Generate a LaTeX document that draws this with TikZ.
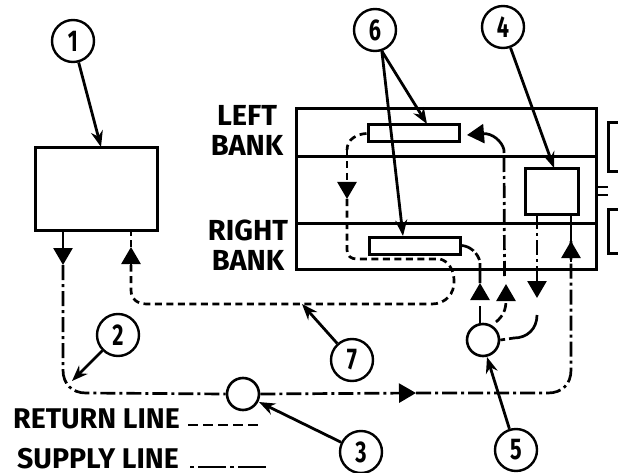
\documentclass[tikz,border=0pt]{standalone}
\usepackage{fontspec}
\setmainfont{Fira Sans}
\usetikzlibrary{arrows.meta,calc}
\newcommand{\callnum}[1]{\scalebox{.72}[1]{#1}}
\tikzset{
  box/.style={draw=black,line width=3pt,rectangle,inner sep=0pt,fill=white},
  callout/.style={draw=black,line width=2.4pt,circle,inner sep=0pt,minimum size=42pt,fill=white,font=\bfseries\fontsize{30}{32}\selectfont},
  valve/.style={draw=black,line width=2.6pt,circle,inner sep=0pt,minimum size=32pt,fill=white},
  leader/.style={line width=2.8pt,-{Stealth[length=16pt,width=12pt]}},
  supply/.style={line width=2.7pt,dash pattern=on 15pt off 4pt on 3pt off 4pt},
  return/.style={line width=2.7pt,dash pattern=on 7pt off 4.5pt},
  solidline/.style={line width=2.7pt},
  tipped/.style={-{Triangle[length=17pt,width=19pt]}},
  caption/.style={font=\bfseries\fontsize{28.5}{30}\selectfont,inner sep=0pt},
  bankcap/.style={font=\bfseries\fontsize{29}{30}\selectfont,inner sep=0pt,align=center},
  rowline/.style={line width=3pt}
}
\begin{document}
\begin{tikzpicture}[x=1pt,y=-1pt]
\useasboundingbox (0,0) rectangle (618,473);
\clip (0,0) rectangle (618,473);
\fill[white] (0,0) rectangle (618,473);

% main boxes
\node[box,minimum width=122pt,minimum height=82pt] (tank) at (96,189) {};
\node[box,minimum width=300pt,minimum height=160pt,fill=none] (engine) at (446.5,189) {};
\coordinate (midLa) at (296.5,157); \coordinate (midLb) at (596.5,157);
\coordinate (midRa) at (296.5,223); \coordinate (midRb) at (596.5,223);
\draw[rowline] (midLa) -- (midLb);
\draw[rowline] (midRa) -- (midRb);
\node[box,minimum width=91pt,minimum height=17pt] (barL) at (413.5,133.5) {};
\node[box,minimum width=91pt,minimum height=17pt] (barR) at (414.5,245.5) {};
\node[box,minimum width=53pt,minimum height=45pt] (pump) at (551.5,191.5) {};
\node[box,minimum width=40pt,minimum height=49pt] (rightA) at (628,147.5) {};
\node[box,minimum width=40pt,minimum height=44pt] (rightB) at (628,231) {};
\draw[solidline] (596.5,187) -- (608,187) (596.5,195) -- (608,195);

% inline valves
\node[valve] (v3) at (243,394) {};
\node[valve] (v5) at (483,340) {};

% callouts
\node[callout] (c1) at (73,41) {\callnum{1}};
\node[callout] (c2) at (118,335) {\callnum{2}};
\node[callout] (c3) at (361,452) {\callnum{3}};
\node[callout] (c4) at (503,27) {\callnum{4}};
\node[callout] (c5) at (516,450) {\callnum{5}};
\node[callout] (c6) at (375,30) {\callnum{6}};
\node[callout] (c7) at (352,360) {\callnum{7}};

% labels
\node[bankcap] (lb) at (247,130) {LEFT\\BANK};
\node[bankcap] (rb) at (248,245) {RIGHT\\BANK};
\node[caption,anchor=east] (rl) at (180,419) {RETURN LINE};
\node[caption,anchor=east] (sl) at (179,459) {SUPPLY LINE};
\coordinate (rlA) at (188,425); \coordinate (rlB) at (261,425);
\coordinate (slA) at (190,467); \coordinate (slB) at (268,467);
\draw[line width=1.8pt,dash pattern=on 10pt off 5pt] (rlA) -- (rlB);
\draw[line width=1.8pt,dash pattern=on 4pt off 4pt on 28pt off 4pt] (slA) -- (slB);

% supply: tank -> valve 3 -> pump
\coordinate (s1) at (63,230); \coordinate (s1t) at (63,265);
\coordinate (s2) at (63,370); \coordinate (s3) at (86,393);
\draw[solidline,tipped] (s1) -- (s1t);
\draw[supply] (s1t) -- (s2) .. controls (63,384) and (72,393) .. (s3) -- (v3.west);
\coordinate (s4) at (416,393); \coordinate (s5) at (548,393);
\coordinate (s6) at (571,370); \coordinate (s7) at (571,241);
\draw[supply,tipped] (v3.east) -- (s4);
\draw[supply] (s4) -- (s5) .. controls (562,393) and (571,384) .. (s6) -- (s7);
\draw[tipped,solidline] (571,262) -- (s7);
\draw[solidline] (s7) -- (571,214);

% valve 5 to right bar
\coordinate (a1) at (480,283);
\draw[solidline,dash pattern=on 18pt off 5pt] (480,324) -- (480,302);
\draw[solidline,tipped] (480,300) -- (a1);
\draw[solidline,dash pattern=on 20pt off 3pt on 8pt off 3pt] (a1) -- (480,262) .. controls (478,253) and (470,246) .. (barR.east);

% valve 5 to left bar
\coordinate (a2) at (506,284);
\draw[solidline,dash pattern=on 9pt off 4pt] (496,322) .. controls (503,316) and (506,310) .. (506,300);
\draw[solidline,tipped] (506,301) -- (a2);
\coordinate (a3) at (504,150);
\draw[supply] (504.5,276) -- (a3);
\coordinate (a4) at (467,135);
\draw[solidline,tipped] (a3) .. controls (502,141) and (492,133) .. (a4);

% valve 5 to pump
\coordinate (b1) at (537,302); \coordinate (b2) at (537,214);
\draw[supply] (b2) -- (537,272);
\draw[solidline,tipped] (537,272) -- (537,298);
\draw[solidline] (537,315) .. controls (537,329) and (527,338) .. (514,338);
\draw[solidline,dash pattern=on 5pt off 4pt] (514,338) -- (v5.east);

% return: left bar -> right bar side -> tank
\coordinate (r1) at (347,150); \coordinate (r2) at (347,199);
\draw[return] (barL.west) .. controls (357,134) and (347,139) .. (r1);
\draw[return,tipped] (r1) -- (r2);
\coordinate (r3) at (347,250); \coordinate (r4) at (357,259);
\coordinate (r5) at (440,259); \coordinate (r6) at (454,280);
\coordinate (r7) at (432,304); \coordinate (r8) at (147,304);
\coordinate (r9) at (131,290); \coordinate (r10) at (131,265);
\draw[return] (r2) -- (r3) .. controls (347,256) and (351,259) .. (r4) -- (r5)
  .. controls (448,261) and (454,270) .. (r6)
  .. controls (455,294) and (445,304) .. (r7) -- (r8)
  .. controls (137,304) and (131,299) .. (r9) -- (r10);
\draw[solidline,tipped] (r10) -- (131,247);
\draw[return] (131,247) -- (tank.south -| r9);

% leaders
\coordinate (t1) at (101,147);
\coordinate (t2) at (72,381);
\coordinate (t3) at (259,402);
\coordinate (t4) at (554,168);
\coordinate (t5) at (487,357);
\coordinate (t6a) at (427,124);
\coordinate (t6b) at (403,236);
\coordinate (t7) at (302,304);
\draw[leader] (c1) -- (t1);
\draw[leader] (c2) -- (t2);
\draw[leader] (c3) -- (t3);
\draw[leader] (c4) -- (t4);
\draw[leader] (c5) -- (t5);
\draw[leader] (c6.-72) -- (t6a);
\draw[leader] (c6.-72) -- (t6b);
\draw[leader] (c7) -- (t7);
\end{tikzpicture}
\end{document}
